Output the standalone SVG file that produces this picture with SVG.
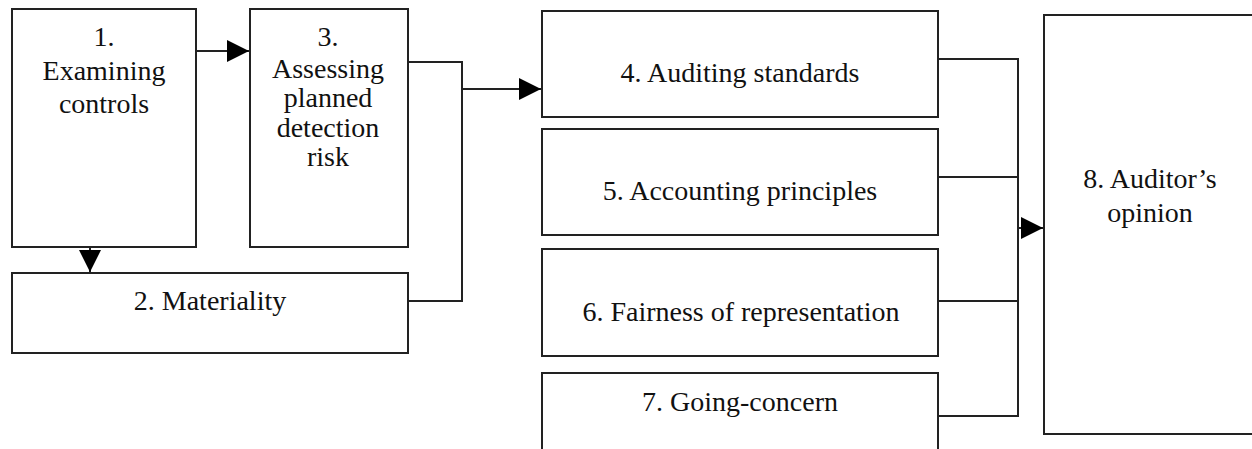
<svg xmlns="http://www.w3.org/2000/svg" width="1252" height="449" viewBox="0 0 1252 449">
<defs>
<style>
.box{fill:#fff;stroke:#222;stroke-width:2}
.ln{fill:none;stroke:#222;stroke-width:2}
.t{font-family:'Liberation Serif','Times New Roman',serif;font-size:28px;fill:#111;text-anchor:middle}
</style>
<marker id="ah" viewBox="0 0 22 22" refX="22" refY="11" markerWidth="22" markerHeight="22" markerUnits="userSpaceOnUse" orient="auto">
<path d="M0,0 L22,11 L0,22 Z" fill="#000"/>
</marker>
</defs>
<rect width="1252" height="449" fill="#fff"/>
<g id="connectors">
<path class="ln" d="M196,51 H249" marker-end="url(#ah)"/>
<path class="ln" d="M90,247 V272" marker-end="url(#ah)"/>
<path class="ln" d="M408,62 H462 V301 H408"/>
<path class="ln" d="M462,89 H541" marker-end="url(#ah)"/>
<path class="ln" d="M938,59 H1018 V416 H938"/>
<path class="ln" d="M938,177 H1018"/>
<path class="ln" d="M938,301 H1018"/>
<path class="ln" d="M1018,228 H1043" marker-end="url(#ah)"/>
</g>
<g id="n1">
<rect class="box" x="12" y="9" width="184" height="238"/>
<text class="t" x="104" y="46">1.</text>
<text class="t" x="104" y="80">Examining</text>
<text class="t" x="104" y="113">controls</text>
</g>
<g id="n3">
<rect class="box" x="250" y="9" width="158" height="238"/>
<text class="t" x="328" y="46">3.</text>
<text class="t" x="328" y="78">Assessing</text>
<text class="t" x="328" y="107">planned</text>
<text class="t" x="328" y="137">detection</text>
<text class="t" x="328" y="166">risk</text>
</g>
<g id="n2">
<rect class="box" x="12" y="273" width="396" height="80"/>
<text class="t" x="210" y="310">2. Materiality</text>
</g>
<g id="n4">
<rect class="box" x="542" y="11" width="396" height="106"/>
<text class="t" x="740" y="82">4. Auditing standards</text>
</g>
<g id="n5">
<rect class="box" x="542" y="129" width="396" height="106"/>
<text class="t" x="740" y="200">5. Accounting principles</text>
</g>
<g id="n6">
<rect class="box" x="542" y="249" width="396" height="107"/>
<text class="t" x="741" y="321">6. Fairness of representation</text>
</g>
<g id="n7">
<rect class="box" x="542" y="373" width="396" height="90"/>
<text class="t" x="740" y="411">7. Going-concern</text>
</g>
<g id="n8">
<rect class="box" x="1044" y="15" width="220" height="419"/>
<text class="t" x="1150" y="188">8. Auditor’s</text>
<text class="t" x="1150" y="222">opinion</text>
</g>
</svg>
